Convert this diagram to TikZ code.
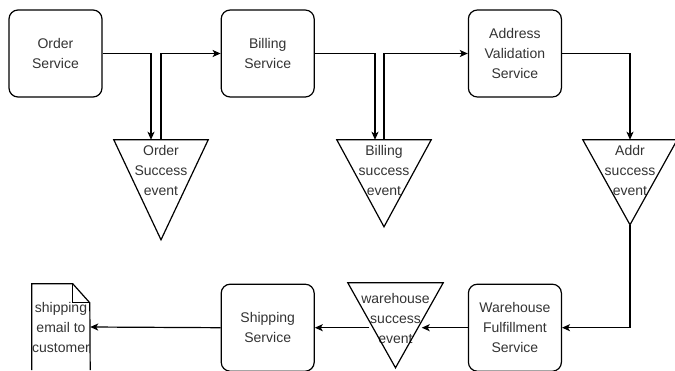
\documentclass[tikz,border=0pt]{standalone}
\usepackage{fontspec}
\setmainfont{Liberation Sans}
\usetikzlibrary{arrows.meta,positioning,calc}
\definecolor{inkgray}{HTML}{333333}

\begin{document}
\begin{tikzpicture}[
  x=1pt, y=-1pt,
  every node/.style={font=\fontsize{14}{20}\selectfont, text=inkgray},
  service/.style={rectangle, rounded corners=9pt, draw, line width=1.2pt,
    minimum width=93pt, minimum height=87pt, align=center, inner sep=0pt},
  event/.style={rectangle, minimum width=94pt, minimum height=60pt,
    align=center, inner sep=0pt},
  docshape/.style={rectangle, minimum width=58pt, minimum height=86pt,
    align=center, inner sep=0pt},
  arrow/.style={-{Stealth[length=8pt,width=7pt,inset=2pt]}, line width=1.2pt},
]
\useasboundingbox (0,0) rectangle (675,370);

% Services, top row
\node[service] (order) at (55.5,53.5) {Order\\Service};
\node[service, right=118pt of order] (billing) {Billing\\Service};
\node[service, right=153pt of billing] (address) {Address\\Validation\\Service};

% Events
\node[event] (osev) at (161,170) {Order\\Success\\event};
\node[event] (bsev) at (384,170) {Billing\\success\\event};
\node[event] (asev) at (630,170) {Addr\\success\\event};

% Bottom row
\node[service, below=186pt of address] (wff) {Warehouse\\Fulfillment\\Service};
\node[service, left=153pt of wff] (shipping) {Shipping\\Service};
\node[event, minimum width=95pt, minimum height=70pt] (wsev) at (395.5,318) {warehouse\\success\\event};
\node[docshape] (mail) at (61,327) {shipping\\email to\\customer};

% Triangles round the events
\foreach \n/\h in {osev/100, bsev/87, asev/85, wsev/85}{
  \coordinate (\n-tip) at ($(\n.north)+(0,\h)$);
  \draw[line width=1.2pt] (\n.north west) -- (\n.north east) -- (\n-tip) -- cycle;
}

% Document outline
\draw[line width=1.2pt] (mail.south west) -- (mail.north west) -- ++(41,0) -- ++(17,19) -- (mail.south east);
\draw[line width=1.2pt] ([xshift=41pt]mail.north west) |- ([yshift=-19pt]mail.north east);

% Arrows
\draw[arrow] (order.east) -| ([xshift=-10pt]osev.north);
\draw[arrow] (osev.north) |- (billing.west);
\draw[arrow] (billing.east) -| ([xshift=-9pt]bsev.north);
\draw[arrow] (bsev.north) |- (address.west);
\draw[arrow] (address.east) -| (asev.north);
\draw[arrow] (asev-tip) |- (wff.east);
\coordinate (wsev-r) at ($(wsev.north east)!0.45!(wsev-tip)$);
\coordinate (wsev-l) at ($(wsev.north west)!0.45!(wsev-tip)$);
\draw[arrow] (wff.west) -- (wsev-r |- wff.west);
\draw[arrow] (wsev-l |- shipping.east) -- (shipping.east);
\draw[arrow] (shipping.west) -- (mail.east);
\end{tikzpicture}
\end{document}
